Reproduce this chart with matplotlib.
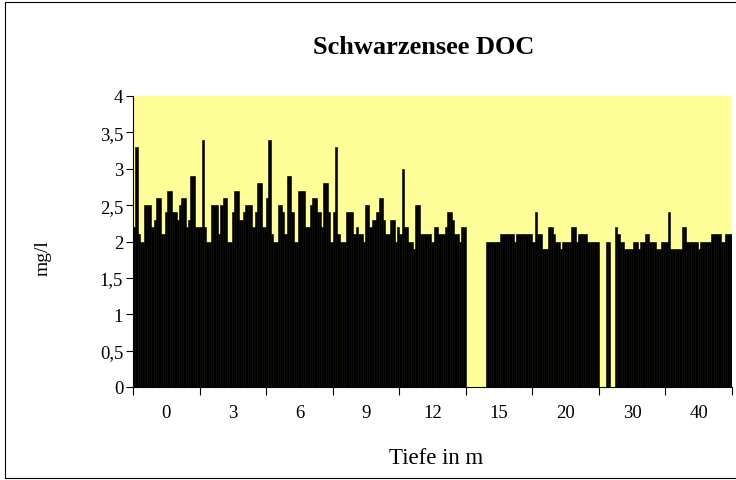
import numpy as np
import matplotlib
matplotlib.use("Agg")
import matplotlib.pyplot as plt
from matplotlib.patches import Rectangle

plt.rcParams['font.family'] = ['Liberation Serif', 'DejaVu Serif']

# Schwarzensee DOC (mg/l), one bar per sampling date, grouped by depth
tiefen = ["0", "3", "6", "9", "12", "15", "20", "30", "40"]
nan = np.nan

doc_0m = [2.2, 3.3, 2.1, 2.0, 2.0, 2.5, 2.5, 2.5, 2.2, 2.3, 2.6, 2.6, 2.1, 2.1, 2.4,
          2.7, 2.7, 2.4, 2.4, 2.3, 2.5, 2.6, 2.6, 2.2, 2.3, 2.9, 2.9, 2.2, 2.2]
doc_3m = [2.2, 3.4, 2.2, 2.0, 2.0, 2.5, 2.5, 2.5, 2.1, 2.5, 2.6, 2.6, 2.0, 2.0, 2.4,
          2.7, 2.7, 2.3, 2.3, 2.4, 2.5, 2.5, 2.5, 2.2, 2.4, 2.8, 2.8, 2.2, 2.2]
doc_6m = [2.6, 3.4, 2.1, 2.0, 2.0, 2.5, 2.5, 2.4, 2.1, 2.9, 2.9, 2.4, 2.0, 2.0, 2.7,
          2.7, 2.7, 2.2, 2.2, 2.5, 2.6, 2.6, 2.4, 2.4, 2.2, 2.8, 2.8, 2.4, 2.0]
doc_9m = [2.4, 3.3, 2.1, 2.0, 2.0, 2.0, 2.4, 2.4, 2.4, 2.1, 2.2, 2.1, 2.1, 2.0, 2.5,
          2.5, 2.2, 2.3, 2.3, 2.4, 2.6, 2.6, 2.3, 2.1, 2.1, 2.3, 2.3, 2.0, 2.2]
doc_12m = [2.1, 3.0, 2.2, 2.2, 2.0, 2.0, 1.9, 2.5, 2.5, 2.1, 2.1, 2.1, 2.1, 2.1, 2.0,
           2.2, 2.2, 2.1, 2.1, 2.1, 2.2, 2.4, 2.4, 2.3, 2.1, 2.1, 2.0, 2.2, 2.2]
doc_15m = [nan, nan, nan, nan, nan, nan, nan, nan, nan, 2.0, 2.0, 2.0, 2.0, 2.0, 2.0,
           2.1, 2.1, 2.1, 2.1, 2.1, 2.1, 2.0, 2.1, 2.1, 2.1, 2.1, 2.1, 2.1, 2.1]
doc_20m = [2.0, 2.4, 2.1, 2.1, 1.9, 1.9, 1.9, 2.2, 2.2, 2.1, 2.0, 2.0, 1.9, 2.0, 2.0,
           2.0, 2.0, 2.2, 2.2, 2.0, 2.1, 2.1, 2.1, 2.1, 2.0, 2.0, 2.0, 2.0, 2.0]
doc_30m = [nan, nan, nan, 2.0, 2.0, nan, nan, 2.2, 2.1, 2.0, 2.0, 1.9, 1.9, 1.9, 1.9,
           2.0, 2.0, 1.9, 2.0, 2.0, 2.1, 2.1, 2.0, 2.0, 2.0, 1.9, 1.9, 2.0, 2.0]
doc_40m = [2.0, 2.4, 1.9, 1.9, 1.9, 1.9, 1.9, 2.2, 2.2, 2.0, 2.0, 2.0, 2.0, 2.0, 1.9,
           2.0, 2.0, 2.0, 2.0, 2.0, 2.1, 2.1, 2.1, 2.1, 2.0, 2.0, 2.1, 2.1, 2.1]

werte = np.array([doc_0m, doc_3m, doc_6m, doc_9m, doc_12m,
                  doc_15m, doc_20m, doc_30m, doc_40m])
n_kat, n_ser = werte.shape

fig = plt.figure(figsize=(7.36, 4.81), dpi=100)
ax = fig.add_axes([133/736, 1 - 388/481, 599/736, 291/481])
ax.set_facecolor('#FFFF99')

breite = 1.0 / n_ser
for j in range(n_ser):
    xs = np.arange(n_kat) - 0.5 + (j + 0.5) * breite
    hoehe = werte[:, j]
    ok = ~np.isnan(hoehe)
    ax.bar(xs[ok], hoehe[ok], width=breite, color='black',
           edgecolor='black', linewidth=0.4)

ax.set_xlim(-0.5, n_kat - 0.5)
ax.set_ylim(0, 4)
yt = np.arange(0, 4.01, 0.5)
ax.set_yticks(yt)
ax.set_yticklabels([('%g' % v).replace('.', ',') for v in yt])
ax.set_xticks(np.arange(n_kat))
ax.set_xticklabels(tiefen)
ax.set_xticks(np.arange(n_kat + 1) - 0.5, minor=True)

ax.tick_params(axis='x', which='major', length=0, pad=12, labelsize=13.5)
ax.tick_params(axis='x', which='minor', length=6, width=0.8, direction='out')
ax.tick_params(axis='y', length=5, width=0.8, pad=2, labelsize=13.5)

for s in ['top', 'right']:
    ax.spines[s].set_visible(False)
for s in ['left', 'bottom']:
    ax.spines[s].set_linewidth(0.8)

fig.text(424/736, 1 - 48/481, 'Schwarzensee DOC', ha='center', va='center',
         fontsize=19, fontweight='bold')
fig.text(436/736, 1 - 458/481, 'Tiefe in m', ha='center', va='center', fontsize=16.5)
fig.text(43/736, 1 - 258/481, 'mg/l', ha='center', va='center', rotation=90, fontsize=14)

fig.add_artist(Rectangle((5/736, 2/481), 1.0, 476/481, transform=fig.transFigure,
                         fill=False, edgecolor='black', linewidth=0.8))

fig.savefig('out.png', dpi=100)
